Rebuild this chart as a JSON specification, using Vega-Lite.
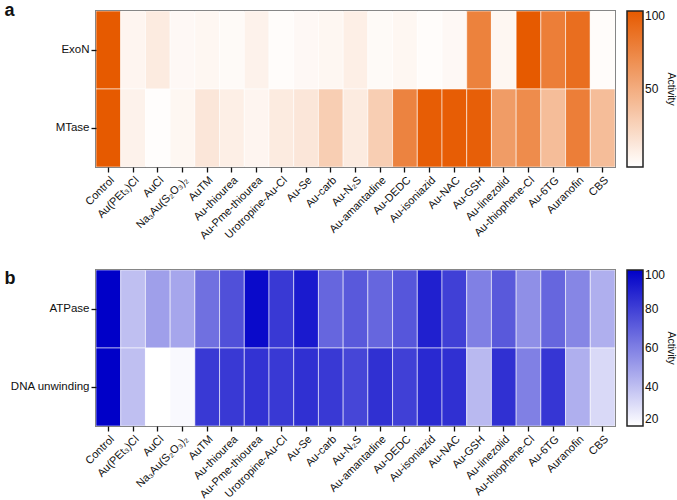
{
  "$schema": "https://vega.github.io/schema/vega-lite/v6.json",
  "padding": {"left": 3, "top": 0, "right": 0, "bottom": 0},
  "background": "white",
  "datasets": {
    "nsp14": [
      {"assay": "ExoN", "compound": "Control", "activity": 100},
      {"assay": "ExoN", "compound": "Au(PEt₃)Cl", "activity": 6},
      {"assay": "ExoN", "compound": "AuCl", "activity": 12},
      {"assay": "ExoN", "compound": "Na₃Au(S₂O₃)₂", "activity": 4},
      {"assay": "ExoN", "compound": "AuTM", "activity": 5},
      {"assay": "ExoN", "compound": "Au-thiourea", "activity": 3},
      {"assay": "ExoN", "compound": "Au-Pme-thiourea", "activity": 8},
      {"assay": "ExoN", "compound": "Urotropine-Au-Cl", "activity": 2},
      {"assay": "ExoN", "compound": "Au-Se", "activity": 4},
      {"assay": "ExoN", "compound": "Au-carb", "activity": 5},
      {"assay": "ExoN", "compound": "Au-N₂S", "activity": 10},
      {"assay": "ExoN", "compound": "Au-amantadine", "activity": 3},
      {"assay": "ExoN", "compound": "Au-DEDC", "activity": 5},
      {"assay": "ExoN", "compound": "Au-isoniazid", "activity": 2},
      {"assay": "ExoN", "compound": "Au-NAC", "activity": 4},
      {"assay": "ExoN", "compound": "Au-GSH", "activity": 76},
      {"assay": "ExoN", "compound": "Au-linezolid", "activity": 5},
      {"assay": "ExoN", "compound": "Au-thiophene-Cl", "activity": 100},
      {"assay": "ExoN", "compound": "Au-6TG", "activity": 78},
      {"assay": "ExoN", "compound": "Auranofin", "activity": 88},
      {"assay": "ExoN", "compound": "CBS", "activity": 2},
      {"assay": "MTase", "compound": "Control", "activity": 100},
      {"assay": "MTase", "compound": "Au(PEt₃)Cl", "activity": 8},
      {"assay": "MTase", "compound": "AuCl", "activity": 1},
      {"assay": "MTase", "compound": "Na₃Au(S₂O₃)₂", "activity": 5},
      {"assay": "MTase", "compound": "AuTM", "activity": 15},
      {"assay": "MTase", "compound": "Au-thiourea", "activity": 10},
      {"assay": "MTase", "compound": "Au-Pme-thiourea", "activity": 6},
      {"assay": "MTase", "compound": "Urotropine-Au-Cl", "activity": 12},
      {"assay": "MTase", "compound": "Au-Se", "activity": 15},
      {"assay": "MTase", "compound": "Au-carb", "activity": 30},
      {"assay": "MTase", "compound": "Au-N₂S", "activity": 12},
      {"assay": "MTase", "compound": "Au-amantadine", "activity": 30},
      {"assay": "MTase", "compound": "Au-DEDC", "activity": 75},
      {"assay": "MTase", "compound": "Au-isoniazid", "activity": 98},
      {"assay": "MTase", "compound": "Au-NAC", "activity": 98},
      {"assay": "MTase", "compound": "Au-GSH", "activity": 97},
      {"assay": "MTase", "compound": "Au-linezolid", "activity": 60},
      {"assay": "MTase", "compound": "Au-thiophene-Cl", "activity": 70},
      {"assay": "MTase", "compound": "Au-6TG", "activity": 40},
      {"assay": "MTase", "compound": "Auranofin", "activity": 78},
      {"assay": "MTase", "compound": "CBS", "activity": 40}
    ],
    "nsp13": [
      {"assay": "ATPase", "compound": "Control", "activity": 100},
      {"assay": "ATPase", "compound": "Au(PEt₃)Cl", "activity": 40},
      {"assay": "ATPase", "compound": "AuCl", "activity": 50},
      {"assay": "ATPase", "compound": "Na₃Au(S₂O₃)₂", "activity": 48},
      {"assay": "ATPase", "compound": "AuTM", "activity": 65},
      {"assay": "ATPase", "compound": "Au-thiourea", "activity": 75},
      {"assay": "ATPase", "compound": "Au-Pme-thiourea", "activity": 97},
      {"assay": "ATPase", "compound": "Urotropine-Au-Cl", "activity": 82},
      {"assay": "ATPase", "compound": "Au-Se", "activity": 92},
      {"assay": "ATPase", "compound": "Au-carb", "activity": 68},
      {"assay": "ATPase", "compound": "Au-N₂S", "activity": 72},
      {"assay": "ATPase", "compound": "Au-amantadine", "activity": 68},
      {"assay": "ATPase", "compound": "Au-DEDC", "activity": 73},
      {"assay": "ATPase", "compound": "Au-isoniazid", "activity": 90},
      {"assay": "ATPase", "compound": "Au-NAC", "activity": 80},
      {"assay": "ATPase", "compound": "Au-GSH", "activity": 60},
      {"assay": "ATPase", "compound": "Au-linezolid", "activity": 72},
      {"assay": "ATPase", "compound": "Au-thiophene-Cl", "activity": 55},
      {"assay": "ATPase", "compound": "Au-6TG", "activity": 68},
      {"assay": "ATPase", "compound": "Auranofin", "activity": 58},
      {"assay": "ATPase", "compound": "CBS", "activity": 45},
      {"assay": "DNA unwinding", "compound": "Control", "activity": 100},
      {"assay": "DNA unwinding", "compound": "Au(PEt₃)Cl", "activity": 40},
      {"assay": "DNA unwinding", "compound": "AuCl", "activity": 20},
      {"assay": "DNA unwinding", "compound": "Na₃Au(S₂O₃)₂", "activity": 22},
      {"assay": "DNA unwinding", "compound": "AuTM", "activity": 82},
      {"assay": "DNA unwinding", "compound": "Au-thiourea", "activity": 82},
      {"assay": "DNA unwinding", "compound": "Au-Pme-thiourea", "activity": 84},
      {"assay": "DNA unwinding", "compound": "Urotropine-Au-Cl", "activity": 82},
      {"assay": "DNA unwinding", "compound": "Au-Se", "activity": 85},
      {"assay": "DNA unwinding", "compound": "Au-carb", "activity": 82},
      {"assay": "DNA unwinding", "compound": "Au-N₂S", "activity": 78},
      {"assay": "DNA unwinding", "compound": "Au-amantadine", "activity": 85},
      {"assay": "DNA unwinding", "compound": "Au-DEDC", "activity": 80},
      {"assay": "DNA unwinding", "compound": "Au-isoniazid", "activity": 87},
      {"assay": "DNA unwinding", "compound": "Au-NAC", "activity": 85},
      {"assay": "DNA unwinding", "compound": "Au-GSH", "activity": 42},
      {"assay": "DNA unwinding", "compound": "Au-linezolid", "activity": 85},
      {"assay": "DNA unwinding", "compound": "Au-thiophene-Cl", "activity": 60},
      {"assay": "DNA unwinding", "compound": "Au-6TG", "activity": 83},
      {"assay": "DNA unwinding", "compound": "Auranofin", "activity": 45},
      {"assay": "DNA unwinding", "compound": "CBS", "activity": 32}
    ]
  },
  "bounds": "flush",
  "spacing": 103,
  "vconcat": [
    {
      "width": 519,
      "height": 156,
      "data": {"name": "nsp14"},
      "mark": {"type": "rect", "stroke": "white", "strokeWidth": 0.8, "strokeOpacity": 0.7},
      "encoding": {
        "x": {"field": "compound", "type": "nominal", "sort": null, "title": null},
        "y": {
          "field": "assay", "type": "nominal", "sort": ["ExoN", "MTase"], "title": "a",
          "axis": {"titleY": 4}
        },
        "color": {
          "field": "activity", "type": "quantitative", "title": "Activity",
          "scale": {"domain": [0, 100], "range": ["#ffffff", "#e65a00"], "interpolate": "rgb"},
          "legend": {"values": [50, 100]}
        }
      }
    },
    {
      "width": 519,
      "height": 156,
      "data": {"name": "nsp13"},
      "mark": {"type": "rect", "stroke": "white", "strokeWidth": 0.8, "strokeOpacity": 0.7},
      "encoding": {
        "x": {"field": "compound", "type": "nominal", "sort": null, "title": null},
        "y": {
          "field": "assay", "type": "nominal", "sort": ["ATPase", "DNA unwinding"], "title": "b",
          "axis": {"titleY": 13}
        },
        "color": {
          "field": "activity", "type": "quantitative", "title": "Activity",
          "scale": {"domain": [20, 100], "range": ["#ffffff", "#0000c8"], "interpolate": "rgb"},
          "legend": {"values": [20, 40, 60, 80, 100]}
        }
      }
    }
  ],
  "resolve": {"scale": {"color": "independent", "x": "independent"}},
  "config": {
    "font": "Liberation Sans",
    "view": {"stroke": "#222222", "strokeWidth": 1.5},
    "axis": {
      "domain": false,
      "ticks": true,
      "tickColor": "#111111",
      "tickWidth": 1.3,
      "tickSize": 5,
      "labelColor": "#111111",
      "labelFontSize": 11.5,
      "labelPadding": 2
    },
    "axisY": {
      "titleAngle": 0,
      "titleX": -92,
      "titleAlign": "left",
      "titleBaseline": "alphabetic",
      "titleFontSize": 18,
      "titleFontWeight": "bold",
      "titleColor": "#111111"
    },
    "axisX": {"labelAngle": -45, "labelAlign": "right", "labelBaseline": "top", "labelPadding": 2, "labelFontSize": 11},
    "scale": {"bandPaddingInner": 0, "bandPaddingOuter": 0},
    "legend": {
      "orient": "right",
      "offset": 12,
      "gradientLength": 156,
      "gradientThickness": 16,
      "gradientStrokeColor": "#222222",
      "gradientStrokeWidth": 1.5,
      "labelFontSize": 12,
      "labelColor": "#111111",
      "labelOffset": 5,
      "titleOrient": "right",
      "titleAngle": 90,
      "titleAnchor": "middle",
      "titleFontSize": 10.5,
      "titleFontWeight": "normal",
      "titleColor": "#111111",
      "titlePadding": 1
    }
  }
}
